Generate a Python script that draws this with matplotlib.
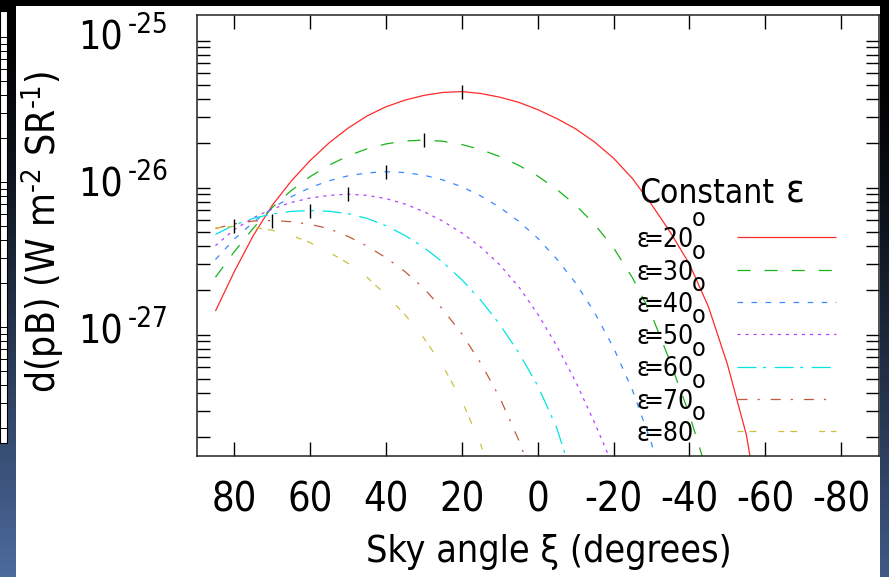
import numpy as np
import matplotlib
matplotlib.use("Agg")
import matplotlib.pyplot as plt
from matplotlib import transforms
from matplotlib.lines import Line2D
from matplotlib.patches import Rectangle
from matplotlib.ticker import LogLocator, NullFormatter, FixedLocator

plt.rcParams['font.family'] = ['DejaVu Sans']
plt.rcParams['font.stretch'] = 'condensed'
plt.rcParams['axes.unicode_minus'] = False
plt.rcParams['lines.scale_dashes'] = False
plt.rcParams['mathtext.fontset'] = 'custom'
plt.rcParams['mathtext.rm'] = 'DejaVu Sans:stretch=condensed'
plt.rcParams['mathtext.it'] = 'DejaVu Sans:stretch=condensed'

# ---------------- data (pB values in units of 1e-27 W m^-2 sr^-1) ----------------
XI = [85, 80, 75, 70, 65, 60, 55, 50, 45, 40, 35, 30, 25, 20, 15, 10, 5, 0,
      -5, -10, -15, -20, -25, -30, -35, -40, -45, -50, -55]

eps_20 = [1.445, 2.69, 4.73, 7.59, 11.09, 15.31, 20.18, 25.41, 30.73, 35.48, 39.36,
          42.41, 44.4, 45.0, 43.65, 41.2, 38.0, 33.9, 29.5, 25.1, 20.4, 15.85,
          11.5, 7.68, 4.95, 3.02, 1.55, 0.631, 0.209]
eps_30 = [2.455, 3.67, 5.31, 7.33, 9.55, 11.89, 14.22, 16.44, 18.37, 19.82, 20.75,
          21.04, 20.65, 19.63, 18.11, 16.26, 14.16, 11.97, 9.73, 7.59, 5.62, 3.89,
          2.43, 1.365, 0.646, 0.285]
eps_40 = [3.24, 4.47, 5.82, 7.24, 8.67, 10.0, 11.14, 12.02, 12.59, 12.82, 12.65,
          12.13, 11.27, 10.12, 8.77, 7.33, 5.89, 4.52, 3.27, 2.24, 1.41, 0.813,
          0.417, 0.182]
eps_50 = [4.03, 5.19, 6.24, 7.16, 7.93, 8.49, 8.85, 9.02, 8.85, 8.41, 7.73,
          6.85, 5.90, 4.91, 3.93, 2.98, 2.11, 1.38, 0.839, 0.478, 0.251]
eps_60 = [4.80, 5.57, 6.18, 6.62, 6.89, 6.98, 6.90, 6.64, 6.17, 5.50, 4.72,
          3.91, 3.10, 2.36, 1.71, 1.17, 0.753, 0.449, 0.232]
eps_70 = [5.27, 5.66, 5.92, 5.97, 5.86, 5.62, 5.25, 4.65, 4.00, 3.33, 2.68,
          2.06, 1.48, 1.01, 0.637, 0.372, 0.191]
eps_80 = [5.31, 5.45, 5.35, 5.13, 4.73, 4.22, 3.63, 3.05, 2.45, 1.86, 1.365,
          0.944, 0.610, 0.355, 0.178]

# where each curve leaves the bottom of the frame
exit_xi = [-56, -43.4, -30.9, -18.8, -7.4, 3.4, 14.1]
exit_val = [0.148, 0.148, 0.148, 0.148, 0.148, 0.148, 0.148]

# peak markers (xi = epsilon)
peak_xi = [20, 30, 40, 50, 60, 70, 80]
peak_val = [45.0, 21.04, 12.82, 9.02, 6.98, 5.97, 5.45]

labels = ["20", "30", "40", "50", "60", "70", "80"]
xtick_vals = [80, 60, 40, 20, 0, -20, -40, -60, -80]
UNIT = 1e-27

# ---------------- styles ----------------
colors = ['#ff2a2a', '#18b418', '#3a8aff', '#b040ff', '#00e4e4', '#c25a3a', '#cbc040']
dashes = [None, (9.4, 10.1), (4.0, 6.1), (2.2, 3.6), (13.7, 4.7, 2.2, 6.1),
          (7.2, 7.2, 1.6, 7.9), (4.3, 4.3, 5.0, 15.8)]

W, H = 889, 577
fig = plt.figure(figsize=(W / 100, H / 100), dpi=100)
fig.patch.set_facecolor('white')

def fx(px):
    return px / W

def fy(py):
    return 1 - py / H

# ---------------- slide decorations ----------------
grad = np.linspace(0, 1, 256).reshape(-1, 1)
axl = fig.add_axes([0, 0, fx(16), 1])
cl = np.zeros((256, 1, 3))
for k, c in enumerate((0.30, 0.42, 0.62)):
    cl[:, 0, k] = c * np.clip((grad[:, 0] - 0.05) / 0.95, 0, 1) ** 1.2
axl.imshow(cl, aspect='auto', extent=(0, 1, 1, 0))
axl.set_axis_off()
axr = fig.add_axes([fx(879.5), 0, 1 - fx(879.5), 1])
cr = np.zeros((256, 1, 3))
for k, c in enumerate((0.25, 0.35, 0.52)):
    cr[:, 0, k] = c * np.clip((grad[:, 0] - 0.1) / 0.9, 0, 1) ** 1.3
axr.imshow(cr, aspect='auto', extent=(0, 1, 1, 0))
axr.set_axis_off()
fig.add_artist(Rectangle((0, fy(6)), 1, 6 / H, transform=fig.transFigure,
                         facecolor='black', edgecolor='none', zorder=5))
# edge of the neighbouring chart at far left
fig.add_artist(Rectangle((0, fy(443)), fx(7.3), (443 - 11) / H, transform=fig.transFigure,
                         facecolor='white', edgecolor='black', lw=0.8, zorder=6))
for top in (37, 182, 327):
    for s in (1, 2, 3, 4, 5, 6, 7, 8, 9):
        yy = top + 145 * (1 - np.log10(s)) if s > 1 else top
        if yy < 440:
            fig.add_artist(Line2D([0, fx(7)], [fy(yy), fy(yy)], transform=fig.transFigure,
                                  color='black', lw=0.7, zorder=7))

# ---------------- main axes ----------------
ax = fig.add_axes([fx(196.5), fy(455.7), fx(879) - fx(196.5), fy(14.7) - fy(455.7)])
ax.set_yscale('log')
ax.set_xlim(90, -90)
ax.set_ylim(1.5e-28, 1.5e-25)

series = [eps_20, eps_30, eps_40, eps_50, eps_60, eps_70, eps_80]
for i, vals in enumerate(series):
    xs = XI[:len(vals)] + [exit_xi[i]]
    ys = [v * UNIT for v in vals] + [exit_val[i] * UNIT]
    ln, = ax.plot(xs, ys, color=colors[i], lw=0.9, solid_capstyle='butt',
                  solid_joinstyle='round')
    if dashes[i] is not None:
        ln.set_dashes(dashes[i])

ax.plot(peak_xi, [v * UNIT for v in peak_val], ls='none', marker='|',
        color='black', markersize=10.5, markeredgewidth=1.0, zorder=5)

for sp in ax.spines.values():
    sp.set_linewidth(1.1)
    sp.set_color('#222222')

ax.xaxis.set_major_locator(FixedLocator(xtick_vals))
ax.set_xticklabels([str(v) for v in xtick_vals])
ax.tick_params(axis='x', which='major', direction='in', length=10, width=1.0,
               top=True, bottom=True, labelsize=28.5, pad=17.5)
ax.yaxis.set_major_locator(LogLocator(base=10, numticks=10))
ax.yaxis.set_minor_locator(LogLocator(base=10, subs=(2, 3, 4, 5, 6, 7, 8, 9), numticks=20))
ax.yaxis.set_major_formatter(NullFormatter())
ax.yaxis.set_minor_formatter(NullFormatter())
ax.tick_params(axis='y', which='both', direction='in', length=9.5, width=1.0,
               left=True, right=True)

# y tick labels drawn as 10 with a raised exponent
ytrans = ax.get_yaxis_transform()
for e in (-25, -26, -27):
    t1 = transforms.offset_copy(ytrans, fig=fig, x=-(196.5 - 123), y=-9.4, units='dots')
    ax.text(0, 10.0 ** e, "10", transform=t1, ha='right', va='baseline',
            fontsize=28, clip_on=False)
    t2 = transforms.offset_copy(ytrans, fig=fig, x=-(196.5 - 127.5), y=7.6, units='dots')
    ax.text(0, 10.0 ** e, "-%d" % abs(e), transform=t2, ha='left', va='baseline',
            fontsize=20, clip_on=False)

# axis titles
fig.text(fx(42), fy(232), r"d(pB) (W m$^{\text{-}2}$ SR$^{\text{-}1}$)", rotation=90,
         ha='center', va='center', fontsize=28)
fig.text(fx(548.5), fy(562), "Sky angle ξ (degrees)", ha='center', va='baseline',
         fontsize=27)

# ---------------- legend ----------------
fig.text(fx(639), fy(203), "Constant", ha='left', va='baseline', fontsize=24)
fig.text(fx(786), fy(203), "ε", ha='left', va='baseline', fontsize=28)
for i in range(7):
    ly = 237.3 + 32.3 * i
    fig.text(fx(637), fy(ly + 10), "ε", ha='left', va='baseline', fontsize=19)
    fig.text(fx(694), fy(ly + 10), "=" + labels[i], ha='right', va='baseline', fontsize=19)
    fig.text(fx(692), fy(ly - 11), "o", ha='left', va='baseline', fontsize=18)
    ll = Line2D([fx(736.7), fx(836)], [fy(ly), fy(ly)], transform=fig.transFigure,
                color=colors[i], lw=0.9, solid_capstyle='butt')
    if dashes[i] is not None:
        ll.set_dashes(dashes[i])
    fig.add_artist(ll)

fig.savefig("out.png", dpi=100, facecolor=fig.get_facecolor())
